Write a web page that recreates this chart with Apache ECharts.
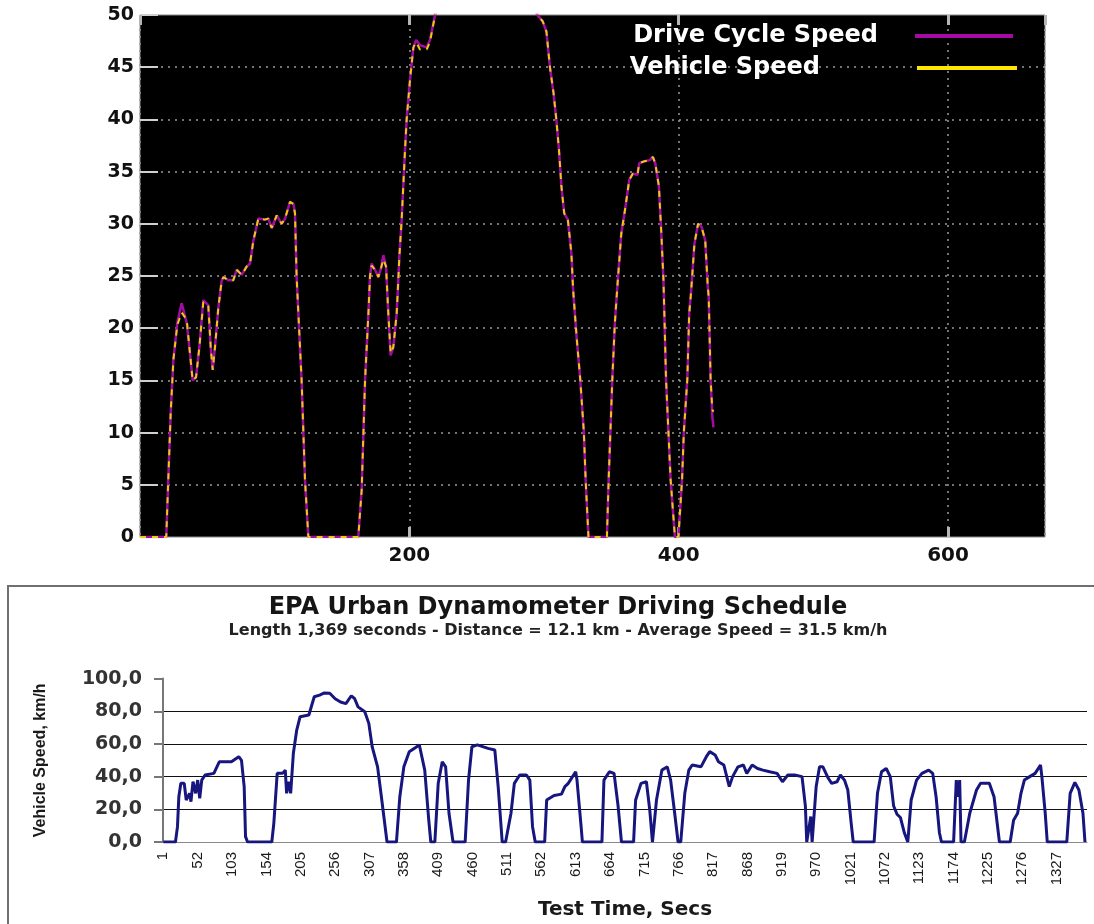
<!DOCTYPE html>
<html><head><meta charset="utf-8">
<script src="https://cdn.jsdelivr.net/npm/echarts@6/dist/echarts.min.js"></script>
<style>html,body{margin:0;padding:0;background:#fff}#c{width:1094px;height:924px}</style>
</head><body><div id="c"></div>
<script>
// ---------- Top chart (time in s, speed in mph) ----------
const topTime = [0, 19.5, 21, 22.8, 24.8, 27.7, 30.9, 34.7, 37.1, 39.1, 41.6, 44.1, 47, 50.7, 52.5, 54, 55.7, 58.2, 60.6, 61.9,
  65.6, 69.3, 71.8, 75.5, 79.2, 81.7, 84.2, 87.9, 92.8, 95.3, 97.8, 101.5, 105.2, 107.7, 111.4, 113.9, 115.1, 116.3, 120, 122.5,
  125, 162.1, 164.6, 167.1, 169.6, 170.8, 172, 174.5, 177, 178.7, 180.7, 182.7, 184.4, 186.1, 188.1, 190.6, 191.8, 192.6, 194.3, 196.8,
  198, 200.5, 203, 205, 207.9, 212.9, 215.3, 219.1, 222, 226, 230, 236, 242, 248, 254, 260, 266, 271, 276, 281,
  286, 290, 295, 299, 301.8, 304.4, 307.1, 309.2, 311.1, 312.9, 315, 317.7, 320.3, 321.6, 324.3, 326.9, 329.6, 330.9, 333, 346.7,
  348, 350.7, 352.6, 354.8, 357.4, 360.1, 363.3, 365.9, 369.4, 370.7, 374.7, 378.6, 380.8, 382.6, 385.3, 387.1, 388.7, 390.6, 394, 397.2,
  399.8, 402.5, 403.8, 406.4, 407.8, 409.1, 411.7, 414.4, 417, 419.7, 421.6, 422.3, 423.7, 425, 425.8];
const driveCycleSpeed = [0, 0, 5.5, 11.9, 17.0, 20.5, 22.4, 20.5, 17.6, 15.0, 15.3, 18.2, 22.7, 22.2, 18.2, 16.0, 18.2, 22.0, 24.5, 24.9,
  24.6, 24.6, 25.6, 25.1, 25.9, 26.2, 28.4, 30.5, 30.4, 30.5, 29.6, 30.8, 30.0, 30.5, 32.1, 31.9, 31.0, 24.9, 15.0, 5.5,
  0, 0, 4.5, 15.0, 21.4, 25.0, 26.2, 25.6, 24.9, 25.6, 27.0, 25.9, 21.4, 17.4, 18.2, 21.4, 24.6, 26.9, 30.4, 37.1,
  40.0, 43.8, 46.9, 47.6, 47.1, 46.9, 47.6, 50.0, 51.5, 53.5, 55.0, 55.8, 56.5, 56.7, 56.0, 54.5, 53.2, 53.0, 54.5, 55.3,
  54.0, 52.0, 50.0, 49.4, 48.4, 45.0, 42.5, 39.9, 37.1, 33.6, 31.0, 30.4, 27.2, 23.7, 19.0, 15.1, 10.0, 5.5, 0, 0,
  5.5, 15.1, 20.5, 24.6, 29.1, 31.3, 34.2, 34.8, 34.7, 35.8, 36.0, 36.1, 36.4, 35.8, 33.6, 29.1, 24.6, 15.1, 5.5, 0,
  0, 5.5, 10.0, 15.1, 21.4, 23.3, 28.1, 30.0, 29.7, 28.4, 24.0, 23.0, 15.1, 11.5, 10.5];
const vehicleSpeed = [0, 0, 5.5, 11.9, 17.0, 20.3, 21.5, 20.8, 17.6, 15.0, 15.3, 18.2, 22.5, 22.2, 18.2, 16.0, 18.2, 22.0, 24.5, 24.9,
  24.6, 24.6, 25.6, 25.1, 25.9, 26.2, 28.4, 30.5, 30.4, 30.5, 29.6, 30.8, 30.0, 30.5, 32.1, 31.9, 31.0, 24.9, 15.0, 5.5,
  0, 0, 4.5, 15.0, 21.4, 25.0, 26.0, 25.6, 24.9, 25.6, 26.6, 25.9, 21.4, 17.6, 18.2, 21.4, 24.6, 26.9, 30.4, 37.1,
  40.0, 43.8, 46.9, 47.4, 46.7, 46.7, 47.4, 50.0, 51.5, 53.5, 55.0, 55.8, 56.5, 56.7, 56.0, 54.5, 53.2, 53.0, 54.5, 55.3,
  54.0, 52.0, 50.0, 49.4, 48.4, 45.0, 42.5, 39.9, 37.1, 33.6, 31.0, 30.4, 27.2, 23.7, 19.0, 15.1, 10.0, 5.5, 0, 0,
  5.5, 15.1, 20.5, 24.6, 29.1, 31.3, 34.2, 34.8, 34.7, 35.8, 36.0, 36.1, 36.4, 35.8, 33.6, 29.1, 24.6, 15.1, 5.5, 0,
  0, 5.5, 10.0, 15.1, 21.4, 23.3, 28.1, 30.0, 29.7, 28.4, 24.0, 23.0, 15.1, 12.2, 12.0];

// ---------- Bottom chart: EPA UDDS (time in s, speed in km/h) ----------
const uddsTime = [1, 19, 22, 24, 27, 32, 35, 40, 42, 45, 49, 52, 55, 58, 63, 76, 84, 92, 102, 113,
  117, 121, 123, 126, 162, 165, 170, 178, 182, 184, 187, 190, 194, 199, 204, 217, 225, 233, 240, 248,
  256, 264, 272, 280, 285, 290, 300, 306, 311, 319, 324, 329, 333, 347, 352, 358, 366, 381, 389, 395,
  398, 404, 409, 415, 420, 425, 431, 449, 454, 459, 467, 483, 493, 498, 504, 509, 517, 522, 530, 540,
  545, 549, 553, 567, 570, 581, 592, 597, 602, 613, 615, 621, 623, 652, 655, 663, 670, 676, 681, 699,
  702, 710, 718, 723, 727, 733, 741, 749, 754, 760, 765, 769, 775, 781, 786, 799, 807, 812, 820, 825,
  833, 841, 846, 854, 862, 867, 875, 883, 891, 901, 912, 920, 928, 938, 949, 954, 956, 962, 964, 970,
  975, 980, 988, 993, 1001, 1006, 1012, 1017, 1022, 1025, 1056, 1061, 1067, 1074, 1080, 1085, 1090, 1095, 1101, 1106,
  1111, 1119, 1127, 1137, 1143, 1148, 1153, 1156, 1174, 1178, 1181, 1183, 1185, 1190, 1198, 1208, 1214, 1227, 1234, 1242,
  1258, 1263, 1269, 1274, 1279, 1287, 1295, 1303, 1305, 1310, 1313, 1342, 1347, 1354, 1360, 1366, 1369];
const uddsSpeed = [0, 0, 9.4, 27.7, 35.9, 35.9, 25.7, 29.8, 24.7, 36.9, 29.8, 37.9, 26.7, 37.9, 41, 42, 49.1, 49.1, 49.1, 52.2,
  50, 33.9, 3.3, 0, 0, 11.4, 42, 42, 44, 29.8, 36.9, 29.8, 54.3, 68.5, 76.7, 77.7, 88.9, 89.9, 91.2, 91,
  87.7, 85.7, 84.7, 89.5, 87.7, 82.7, 79.7, 72.6, 58.3, 46, 29.8, 13.3, 0, 0, 27.7, 46, 55.3, 59.4, 44, 13.3,
  0, 0, 35.9, 49.1, 46, 17.6, 0, 0, 37.9, 58.3, 59.4, 57.3, 56.3, 33.9, 0, 0, 17.6, 35.9, 41, 41,
  37.9, 9.4, 0, 0, 25.7, 28.5, 29.3, 33.9, 35.9, 43, 37.9, 10, 0, 0, 37.9, 43, 42, 22, 0, 0,
  25.7, 35.9, 36.9, 19.6, 0, 25.7, 44, 46, 37.9, 17.6, 0, 0, 29.8, 44, 47.1, 46, 52.2, 55.3, 53.3, 49.1,
  47.1, 33.9, 40, 46, 47.1, 42, 47.1, 45, 44, 43, 42, 36.9, 41, 41, 40, 22, 0, 15.6, 0, 33.9,
  46, 46, 39, 35.9, 36.9, 41, 37.9, 31.8, 11.4, 0, 0, 29.8, 43, 45, 40, 22, 17, 15, 5.5, 0,
  25.7, 37.9, 42, 44, 42, 27.7, 5.5, 0, 0, 37.9, 27.7, 37.9, 0, 0, 17.6, 31.8, 35.9, 35.9, 27.7, 0,
  0, 13.3, 17.6, 29.8, 37.9, 40, 42, 47.1, 40, 17.6, 0, 0, 29.8, 36.5, 31.8, 17.6, 0];
const uddsTickLabels = [1, 52, 103, 154, 205, 256, 307, 358, 409, 460, 511, 562, 613, 664, 715, 766, 817, 868, 919, 970,
  1021, 1072, 1123, 1174, 1225, 1276, 1327];

const pair = (xs, ys) => xs.map((x, i) => [x, ys[i]]);
const F = 'DejaVu Sans';

const chart = echarts.init(document.getElementById('c'));
chart.setOption({
  animation: false,
  backgroundColor: '#ffffff',
  title: {
    text: 'EPA Urban Dynamometer Driving Schedule',
    subtext: 'Length 1,369 seconds - Distance = 12.1 km - Average Speed = 31.5 km/h',
    left: 558, textAlign: 'center', top: 596, itemGap: 3, padding: 0,
    textStyle: { fontFamily: F, fontWeight: 'bold', fontSize: 24, color: '#151515' },
    subtextStyle: { fontFamily: F, fontWeight: 'bold', fontSize: 16, color: '#222' }
  },
  legend: [
    { data: ['Drive Cycle Speed'], right: 81, top: 24, padding: 0, align: 'right', icon: 'rect',
      itemWidth: 98, itemHeight: 4, selectedMode: false,
      textStyle: { color: '#fff', fontFamily: F, fontWeight: 'bold', fontSize: 24, padding: [0, 32, 0, 0] } },
    { data: ['Vehicle Speed'], right: 77, top: 56, padding: 0, align: 'right', icon: 'rect',
      itemWidth: 100, itemHeight: 4, selectedMode: false,
      textStyle: { color: '#fff', fontFamily: F, fontWeight: 'bold', fontSize: 24, padding: [0, 92, 0, 0] } }
  ],
  graphic: [
    { type: 'rect', shape: { x: 8, y: 586, width: 1100, height: 400 },
      style: { fill: 'none', stroke: '#707070', lineWidth: 2 }, z: 0 }
  ],
  grid: [
    { left: 140, top: 15, width: 905, height: 522, show: true, backgroundColor: '#000',
      borderColor: '#8a8a8a', borderWidth: 1 },
    { left: 163, top: 678.6, width: 924, height: 163.4 }
  ],
  xAxis: [
    { type: 'value', gridIndex: 0, min: 0, max: 672, interval: 200,
      axisLine: { show: false },
      axisTick: { inside: true, length: 10, lineStyle: { color: '#b5b5b5', width: 3 } },
      axisLabel: { showMinLabel: false, showMaxLabel: false, margin: 9,
        fontFamily: F, fontWeight: 'bold', fontSize: 20, color: '#111' },
      splitLine: { show: true, lineStyle: { color: '#9a9a9a', width: 1.5, type: [2, 5] } } },
    { type: 'value', gridIndex: 0, position: 'top', min: 0, max: 672, interval: 200,
      axisLine: { show: false },
      axisTick: { inside: true, length: 10, lineStyle: { color: '#b5b5b5', width: 3 } },
      axisLabel: { show: false }, splitLine: { show: false } },
    { type: 'value', gridIndex: 1, min: 0.5, max: 1372,
      name: 'Test Time, Secs', nameLocation: 'middle', nameGap: 58,
      nameTextStyle: { fontFamily: F, fontWeight: 'bold', fontSize: 20, color: '#1a1a1a' },
      axisLine: { show: true, lineStyle: { color: '#8a8a8a', width: 1 } },
      axisTick: { show: false },
      axisLabel: { customValues: uddsTickLabels, rotate: 90, margin: 10,
        formatter: v => String(v),
        fontFamily: 'Liberation Sans', fontSize: 15, color: '#1a1a1a' },
      splitLine: { show: false } }
  ],
  yAxis: [
    { type: 'value', gridIndex: 0, min: 0, max: 50, interval: 5,
      axisLine: { show: false },
      axisTick: { inside: true, length: 18, lineStyle: { color: '#d0d0d0', width: 2 } },
      axisLabel: { margin: 6, fontFamily: F, fontWeight: 'bold', fontSize: 19, color: '#111' },
      splitLine: { show: true, showMinLine: false, showMaxLine: false,
        lineStyle: { color: '#9a9a9a', width: 1.5, type: [2, 5] } } },
    { type: 'value', gridIndex: 1, min: 0, max: 100, interval: 20,
      name: 'Vehicle Speed, km/h', nameLocation: 'middle', nameGap: 114, nameRotate: 90,
      nameTextStyle: { fontFamily: 'Liberation Sans', fontWeight: 'bold', fontSize: 16, color: '#1a1a1a' },
      axisLine: { show: true, lineStyle: { color: '#777', width: 2 } },
      axisTick: { show: true, length: 9, lineStyle: { color: '#777', width: 2 } },
      axisLabel: { margin: 21, fontFamily: F, fontWeight: 'bold', fontSize: 19, color: '#333',
        formatter: v => v.toFixed(1).replace('.', ',') },
      splitLine: { show: true, showMinLine: false, showMaxLine: false,
        lineStyle: { color: '#111', width: 1 } } }
  ],
  series: [
    { name: 'Drive Cycle Speed', type: 'line', xAxisIndex: 0, yAxisIndex: 0,
      data: pair(topTime, driveCycleSpeed), showSymbol: false, clip: true, z: 3,
      itemStyle: { color: '#a20ca2' }, lineStyle: { color: '#a20ca2', width: 2.5 } },
    { name: 'Vehicle Speed', type: 'line', xAxisIndex: 0, yAxisIndex: 0,
      data: pair(topTime, vehicleSpeed), showSymbol: false, clip: true, z: 4,
      itemStyle: { color: '#ffe600' }, lineStyle: { color: '#e8cc10', width: 2, type: [6, 6] } },
    { name: 'EPA UDDS', type: 'line', xAxisIndex: 2, yAxisIndex: 1,
      data: pair(uddsTime, uddsSpeed), showSymbol: false, clip: true,
      itemStyle: { color: '#16167e' }, lineStyle: { color: '#16167e', width: 3 } }
  ]
});
</script></body></html>
